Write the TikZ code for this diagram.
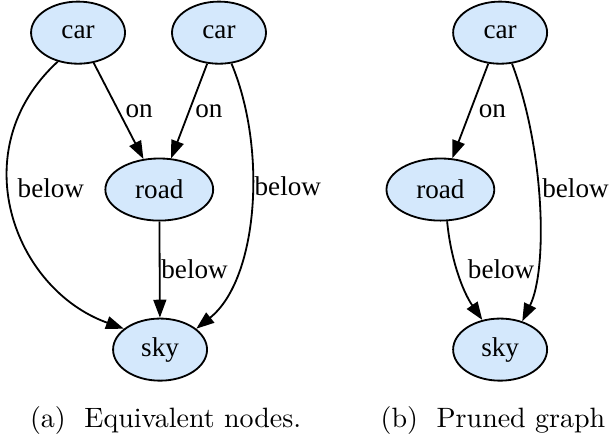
\documentclass[tikz,border=0pt]{standalone}
\usepackage{fontspec}
\usepackage{tikz}
\usetikzlibrary{arrows.meta,shapes.geometric}
\newfontfamily\grafYazi{Liberation Serif}
\definecolor{acikMavi}{HTML}{D4E8FC}

\tikzset{
  dugum/.style={ellipse,draw,fill=acikMavi,line width=0.65pt,minimum width=1.18cm,minimum height=0.78cm,
    inner xsep=5pt,inner ysep=2pt,font=\grafYazi\fontsize{9.7}{11}\selectfont},
  ok/.style={line width=0.65pt,-{Triangle[length=6.4pt,width=4.6pt]}},
  etiket/.style={anchor=west,inner sep=2pt,font=\grafYazi\fontsize{9.7}{11}\selectfont}
}

\begin{document}
\begin{tikzpicture}
\useasboundingbox (0,0) rectangle (7.66,5.53);
% (a) iki araba dugumu
\node[dugum] (araba1) at (0.98,5.12) {car};
\node[dugum] (araba2) at (2.75,5.12) {car};
\node[dugum] (yol1) at (2.00,3.15) {road};
\node[dugum] (gok1) at (2.01,1.14) {sky};
\draw[ok] (araba1) -- node[etiket,inner sep=2.2pt] (on1) {on} (yol1);
\draw[ok] (araba2) -- node[etiket,inner sep=1.9pt] (on2) {on} (yol1);
\draw[ok] (yol1) -- node[etiket,inner sep=0.3pt] (alt1) {below} (gok1);
\draw[ok] (araba1.235) .. controls (-0.48,3.65) and (0.17,1.90) .. node[etiket,pos=0.42,inner sep=3pt] (alt2) {below} (gok1.150);
\draw[ok] (araba2.292) .. controls (3.36,3.65) and (3.24,2.02) .. node[etiket,pos=0.42,inner sep=0.5pt] (alt3) {below} (gok1.30);
\node[anchor=base] (altyaziA) at (2.08,0.16) {(a)~~Equivalent nodes.};
% (b) budanmis cizge
\node[dugum] (araba3) at (6.28,5.12) {car};
\node[dugum] (yol2) at (5.53,3.15) {road};
\node[dugum] (gok2) at (6.28,1.14) {sky};
\draw[ok] (araba3) -- node[etiket,inner sep=2.7pt] (on3) {on} (yol2);
\draw[ok] (araba3.291) .. controls (6.84,3.65) and (6.88,2.15) .. node[etiket,pos=0.44,inner sep=1.2pt] (alt4) {below} (gok2.52);
\draw[ok] (yol2.282) .. controls (5.66,2.27) and (5.81,1.87) .. node[etiket,pos=0.45,inner sep=3.6pt] (alt5) {below} (gok2.121);
\node[anchor=base] (altyaziB) at (6.19,0.16) {(b)~~Pruned graph};
\end{tikzpicture}
\end{document}
